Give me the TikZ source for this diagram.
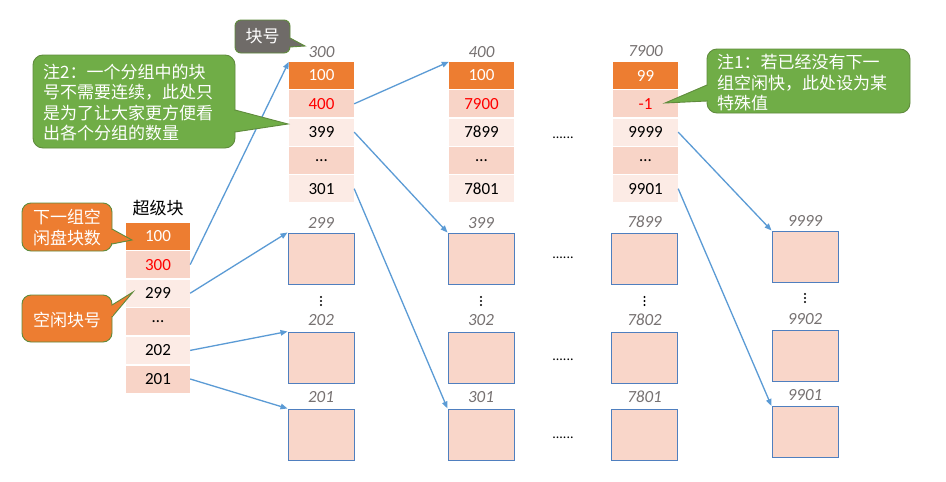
\documentclass[tikz,border=0pt]{standalone}
\usepackage{fontspec}
\setmainfont{Carlito}
\newfontfamily\cjk{Noto Sans CJK SC}
\usetikzlibrary{arrows.meta}
\definecolor{hdr}{HTML}{ED7D31}
\definecolor{bandA}{HTML}{F8D4C7}
\definecolor{bandB}{HTML}{FCEBE5}
\definecolor{boxfill}{HTML}{F9D6C9}
\definecolor{boxline}{HTML}{4F7FBF}
\definecolor{arrowc}{HTML}{5B9BD5}
\definecolor{greenc}{HTML}{70AD47}
\definecolor{greyc}{HTML}{6F6B68}
\definecolor{calline}{HTML}{5F8B3C}
\definecolor{lbl}{HTML}{767171}
\definecolor{redc}{HTML}{FF0000}
\tikzset{
  cell/.style={rectangle, minimum width=65pt, minimum height=27pt, inner sep=0pt, font=\fontsize{17}{20}\selectfont},
  hcell/.style={cell, fill=hdr, text=white},
  dcell/.style={cell, fill=bandA},
  lcell/.style={cell, fill=bandB},
  blk/.style={rectangle, draw=boxline, fill=boxfill, line width=1pt, minimum width=66pt, minimum height=51pt, inner sep=0pt},
  lab/.style={font=\fontsize{17}{20}\selectfont\itshape, text=lbl, inner sep=0pt},
  arr/.style={draw=arrowc, line width=1.3pt, -{Triangle[length=7pt,width=5.5pt]}},
  calbody/.style={draw=calline, line width=0.9pt},
  ctext/.style={font=\cjk\fontsize{17}{20.5}\selectfont, text=white, inner sep=0pt},
  hdots/.style={font=\fontsize{14}{16}\selectfont, inner sep=0pt, anchor=base},
  vdot/.style={fill=black}
}
\begin{document}
\begin{tikzpicture}[x=1pt,y=-1pt]
\useasboundingbox (0,0) rectangle (946,482);
\fill[white] (0,0) rectangle (946,482);

% ---------- super block ----------
\node[font=\cjk\fontsize{17}{20}\selectfont, inner sep=0pt] (sup) at (158,208) {超级块};
\node[hcell, minimum width=64pt] (s1) at (158,236) {100};
\node[dcell, minimum width=64pt, text=redc] (s2) at (158,264.6) {300};
\node[lcell, minimum width=64pt] (s3) at (158,293.2) {299};
\node[dcell, minimum width=64pt] (s4) at (158,321.8) {…};
\node[lcell, minimum width=64pt] (s5) at (158,350.4) {202};
\node[dcell, minimum width=64pt] (s6) at (158,379) {201};

% ---------- block 300 ----------
\node[lab] (la) at (321.5,52) {300};
\node[hcell] (a1) at (321.5,75.5) {100};
\node[dcell, text=redc] (a2) at (321.5,103.8) {400};
\node[lcell] (a3) at (321.5,132.1) {399};
\node[dcell] (a4) at (321.5,160.4) {…};
\node[lcell] (a5) at (321.5,188.7) {301};

% ---------- block 400 ----------
\node[lab] (lb) at (481.5,52) {400};
\node[hcell] (b1) at (481.5,75.5) {100};
\node[dcell, text=redc] (b2) at (481.5,103.8) {7900};
\node[lcell] (b3) at (481.5,132.1) {7899};
\node[dcell] (b4) at (481.5,160.4) {…};
\node[lcell] (b5) at (481.5,188.7) {7801};

% ---------- block 7900 ----------
\node[lab] (lc) at (645.5,51) {7900};
\node[hcell] (c1) at (645.5,75.5) {99};
\node[dcell, text=redc] (c2) at (645.5,103.8) {-1};
\node[lcell] (c3) at (645.5,132.1) {9999};
\node[dcell] (c4) at (645.5,160.4) {…};
\node[lcell] (c5) at (645.5,188.7) {9901};

% ---------- empty blocks ----------
\node[lab] (lp1) at (321,223) {299};
\node[blk] (p1) at (321,258.5) {};
\node[lab] (lp2) at (321,320) {202};
\node[blk] (p2) at (321,357.5) {};
\node[lab] (lp3) at (321,397) {201};
\node[blk] (p3) at (321,434.5) {};

\node[lab] (lq1) at (481,223) {399};
\node[blk] (q1) at (481,258.5) {};
\node[lab] (lq2) at (481,320) {302};
\node[blk] (q2) at (481,357.5) {};
\node[lab] (lq3) at (481,397) {301};
\node[blk] (q3) at (481,434.5) {};

\node[lab] (lr1) at (644.5,222) {7899};
\node[blk] (r1) at (644.5,258.5) {};
\node[lab] (lr2) at (644.5,320) {7802};
\node[blk] (r2) at (644.5,357.5) {};
\node[lab] (lr3) at (644.5,397) {7801};
\node[blk] (r3) at (644.5,434.5) {};

\node[lab] (lt1) at (805,221) {9999};
\node[blk] (t1) at (805,256.5) {};
\node[lab] (lt2) at (805,319) {9902};
\node[blk] (t2) at (805,355.5) {};
\node[lab] (lt3) at (805,395) {9901};
\node[blk] (t3) at (805,432) {};

% vertical dots
\foreach \xx/\yy in {321/301, 481/301, 644.5/301, 805/298}{
  \fill (\xx,\yy-4) circle (1.05);
  \fill (\xx,\yy) circle (1.05);
  \fill (\xx,\yy+4) circle (1.05);
}

% horizontal dots
\node[hdots] (d1) at (563,138.5) {......};
\node[hdots] (d2) at (563,258.5) {......};
\node[hdots] (d3) at (563,360.5) {......};
\node[hdots] (d4) at (563,438.5) {......};

% ---------- arrows ----------
\draw[arr] (s2.east) -- (a1.north west);
\draw[arr] (s3.east) -- (p1.north west);
\draw[arr] (s5.east) -- (p2.north west);
\draw[arr] (s6.east) -- (p3.north west);
\draw[arr] (a2.east) -- (b1.north west);
\draw[arr] (a3.east) -- (q1.north west);
\draw[arr] (a5.east) -- (q3.north west);
\draw[arr] (c3.east) -- (t1.north west);
\draw[arr] (c5.east) -- (t3.north west);

% ---------- callouts ----------
% 块号
\draw[calbody, fill=greyc, rounded corners=6pt] (235,20) rectangle (290,53);
\draw[calbody, fill=greyc, line join=miter] (290,38) -- (305,46) -- (290,47);
\fill[greyc] (289.3,38.9) rectangle (290.8,46.4);
\node[ctext] (k1) at (262.5,36.5) {块号};

% 注2
\draw[calbody, fill=greenc, rounded corners=10pt] (33,55) rectangle (235,148);
\draw[calbody, fill=greenc, line join=miter] (235,110) -- (288,124) -- (235,132);
\fill[greenc] (234.3,111.2) rectangle (236,130.8);
\node[ctext, align=left, anchor=west] (k2) at (43,102.5) {注2：一个分组中的块\\号不需要连续，此处只\\是为了让大家更方便看\\出各个分组的数量};

% 注1
\draw[calbody, fill=greenc, rounded corners=10pt] (707,49) rectangle (910,113);
\draw[calbody, fill=greenc, line join=miter] (707,85) -- (665,103) -- (707,101);
\fill[greenc] (706.2,86.2) rectangle (707.8,100.3);
\node[ctext, align=left, anchor=west] (k3) at (717,83) {注1：若已经没有下一\\组空闲快，此处设为某\\特殊值};

% 下一组空闲盘块数
\draw[calbody, fill=hdr, rounded corners=9pt] (22,203) rectangle (112,251);
\draw[calbody, fill=hdr, line join=miter] (112,229) -- (132,240) -- (112,244);
\fill[hdr] (111.3,230) rectangle (113,243.2);
\node[ctext, align=center] (k4) at (67,227.5) {下一组空\\闲盘块数};

% 空闲块号
\draw[calbody, fill=hdr, rounded corners=9pt] (22,295) rectangle (112,342);
\draw[calbody, fill=hdr, line join=miter] (112,305) -- (133,292) -- (112,317);
\fill[hdr] (111.3,306) rectangle (113,316);
\node[ctext] (k5) at (67,320) {空闲块号};
\end{tikzpicture}
\end{document}
